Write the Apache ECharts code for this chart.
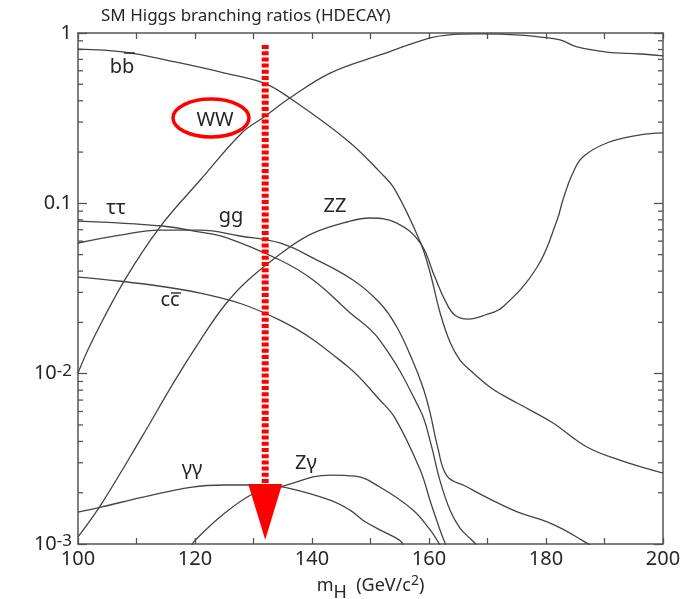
<!DOCTYPE html>
<html><head><meta charset="utf-8">
<script src="https://cdn.jsdelivr.net/npm/echarts@6/dist/echarts.min.js"></script>
<style>html,body{margin:0;padding:0;background:#fff}#c{width:691px;height:599px}</style>
</head><body><div id="c"></div>
<script>
// ---- data (m_H in GeV, branching ratio) ----
const xTickValues = [100, 120, 140, 160, 180, 200];
const yTickLabels = { '0': '1', '-1': '0.1', '-2': '10{sup|-2}', '-3': '10{sup|-3}' };
const yMinorTicks = [0.002,0.003,0.004,0.005,0.006,0.007,0.008,0.009,
                     0.02,0.03,0.04,0.05,0.06,0.07,0.08,0.09,
                     0.2,0.3,0.4,0.5,0.6,0.7,0.8,0.9];
const bb = [[100,0.805],[108,0.773],[116.6,0.676],[125.1,0.582],[131.8,0.508],[136.2,0.415],[146,0.235],[151.6,0.153],[154.2,0.120],[158.5,0.0593],[160.2,0.039],[161.9,0.0227],[163.6,0.0153],[165.3,0.0120],[167,0.0105],[170.4,0.00834],[172.6,0.00748],[177.3,0.00611],[181.2,0.00513],[187,0.00371],[192.6,0.00311],[200,0.00261]];
const tautau = [[100,0.0787],[114.4,0.0736],[120.9,0.0678],[125.1,0.0634],[134.5,0.0465],[140.2,0.0355],[146,0.0236],[151.6,0.0157],[158.5,0.0061],[160.2,0.00402],[161.9,0.00234],[163.6,0.00158],[165.3,0.00124],[167,0.00108],[168.7,0.000946]];
const cc = [[100,0.0369],[120.9,0.0297],[134.5,0.0206],[146,0.0111],[151.6,0.0070],[154.2,0.00548],[158.5,0.00272],[160.2,0.00179],[161.4,0.00135],[162.2,0.00113],[163.1,0.000946]];
const gg = [[100,0.0585],[107.2,0.0651],[114,0.0697],[120.9,0.0697],[127.7,0.0643],[134.5,0.0585],[140.2,0.0477],[147,0.0355],[151.6,0.026],[154.5,0.0188],[157.3,0.0117],[159,0.00823],[160.2,0.00587],[161.4,0.00381],[163.1,0.0025],[166.2,0.00219],[170.1,0.00186],[175.2,0.00154],[180.2,0.00135],[183.1,0.00121],[186.2,0.00105],[188.4,0.000946]];
const WW = [[100,0.0101],[102.4,0.0155],[108,0.0355],[114,0.0726],[120.9,0.137],[128,0.259],[131.8,0.321],[136.2,0.415],[143.1,0.582],[151.6,0.743],[160.2,0.935],[163.1,0.973],[168.7,0.987],[175.6,0.973],[179,0.947],[182.4,0.91],[185.3,0.828],[190.4,0.773],[196.1,0.753],[200,0.733]];
const ZZ = [[100,0.0011],[104.1,0.00174],[110.9,0.00424],[116.6,0.00917],[120.9,0.0157],[125.1,0.0253],[129.1,0.0355],[136.2,0.0554],[140.2,0.0669],[146,0.0777],[149.9,0.082],[154.5,0.0766],[158.5,0.0585],[161,0.0369],[162.7,0.0271],[164.4,0.0221],[166.7,0.0209],[169.6,0.0221],[172.6,0.0246],[178.5,0.0423],[181.9,0.0798],[182.9,0.105],[184.6,0.151],[186.3,0.187],[190.4,0.226],[196.1,0.252],[200,0.259]];
const Zgamma = [[119.3,0.00097],[120,0.00105],[125.1,0.00152],[130.3,0.0020],[134.5,0.00216],[143.1,0.00254],[147.4,0.0025],[151.6,0.00216],[157.3,0.00158],[160.2,0.00121],[161.4,0.00105],[162,0.00097]];
const gamgam = [[100,0.00154],[104.1,0.00165],[110.9,0.00188],[119.5,0.00216],[125.1,0.00222],[131.5,0.00222],[135.4,0.00215],[143.1,0.00181],[146.5,0.00158],[148.7,0.00138],[151.6,0.00121],[155,0.00105],[155.7,0.00097]];
const markerMass = 132;
const curves = [bb, tautau, cc, gg, WW, ZZ, Zgamma, gamgam];

// ---- chart ----
const chart = echarts.init(document.getElementById('c'), null, {renderer: 'canvas'});
const FONT = '"Noto Sans", "DejaVu Sans", sans-serif';
const TXT = '#262626';
const AX = '#555';
const lineSeries = curves.map(d => ({
  type: 'line', data: d, symbol: 'none', smooth: 0.4,
  lineStyle: {color: '#444', width: 1.3}, silent: true, clip: true, z: 3
}));
const option = {
  animation: false,
  backgroundColor: '#fff',
  title: {
    text: 'SM Higgs branching ratios (HDECAY)', left: 96, top: 3,
    textStyle: {fontFamily: FONT, fontSize: 17, fontWeight: 'normal', color: TXT}
  },
  grid: {left: 78, right: 28, top: 33, bottom: 55, containLabel: false, outerBoundsMode: 'none'},
  xAxis: [{
    type: 'value', min: 100, max: 200, interval: 10, position: 'bottom',
    axisLine: {show: true, lineStyle: {color: AX, width: 1.5}},
    axisTick: {show: true, inside: true, length: 6, lineStyle: {color: AX, width: 1.3}},
    splitLine: {show: false},
    axisLabel: {fontFamily: FONT, fontSize: 20, color: TXT, margin: 5,
      formatter: v => (xTickValues.indexOf(v) >= 0 ? String(v) : '')},
    name: 'm{sub|H}  (GeV/c{sup|2})', nameLocation: 'middle', nameGap: 21,
    nameTextStyle: {fontFamily: FONT, fontSize: 18, color: TXT,
      rich: {sub: {fontFamily: FONT, fontSize: 18, color: TXT, padding: [14, 0, 0, 0]},
             sup: {fontFamily: FONT, fontSize: 14, color: TXT, padding: [0, 0, 10, 0]}}}
  }, {
    type: 'value', min: 100, max: 200, interval: 10, position: 'top',
    axisLine: {show: true, lineStyle: {color: AX, width: 1.5}},
    axisTick: {show: true, inside: true, length: 6, lineStyle: {color: AX, width: 1.3}},
    axisLabel: {show: false}, splitLine: {show: false}
  }],
  yAxis: [{
    type: 'log', logBase: 10, min: 0.001, max: 1, position: 'left',
    axisLine: {show: true, lineStyle: {color: AX, width: 1.5}},
    axisTick: {show: true, inside: true, length: 9, lineStyle: {color: AX, width: 1.3}},
    splitLine: {show: false}, minorTick: {show: false},
    axisLabel: {fontFamily: FONT, fontSize: 20, color: TXT, margin: 6,
      formatter: v => yTickLabels[String(Math.round(Math.log10(v)))] || '',
      rich: {sup: {fontFamily: FONT, fontSize: 17, color: TXT, padding: [0, 0, 6, 0]}}}
  }, {
    type: 'log', logBase: 10, min: 0.001, max: 1, position: 'right',
    axisLine: {show: true, lineStyle: {color: AX, width: 1.5}},
    axisTick: {show: true, inside: true, length: 9, lineStyle: {color: AX, width: 1.3}},
    axisLabel: {show: false}, splitLine: {show: false}
  }],
  series: lineSeries.concat([{
    type: 'custom', silent: true, z: 2,
    data: yMinorTicks.map(v => [100, v]),
    encode: {x: 0, y: 1},
    renderItem: (params, api) => {
      const v = api.value(1);
      const l = api.coord([100, v]);
      const r = api.coord([200, v]);
      return {type: 'group', children: [
        {type: 'line', shape: {x1: l[0], y1: l[1], x2: l[0] + 5, y2: l[1]}, style: {stroke: AX, lineWidth: 1.3}},
        {type: 'line', shape: {x1: r[0], y1: r[1], x2: r[0] - 5, y2: r[1]}, style: {stroke: AX, lineWidth: 1.3}}
      ]};
    }
  }])
};
chart.setOption(option);

// annotations
const cx = chart.convertToPixel({xAxisIndex: 0}, markerMass);
const yTop = chart.convertToPixel({yAxisIndex: 0}, 0.85);
const yArrow = chart.convertToPixel({yAxisIndex: 0}, 0.00225);
const yTip = chart.convertToPixel({yAxisIndex: 0}, 0.00106);
const lab = (text, x, y, size) => ({type: 'text', x: x, y: y, z: 10,
  style: {text: text, font: (size || 20) + 'px ' + FONT, fill: TXT, align: 'center', verticalAlign: 'middle'}});
const bar = (x1, x2, y) => ({type: 'line', z: 10, shape: {x1: x1, y1: y, x2: x2, y2: y}, style: {stroke: TXT, lineWidth: 1.4}});
chart.setOption({graphic: [
  lab('bb', 122, 67), bar(124, 135, 53),
  lab('WW', 215, 120),
  lab('\u03c4\u03c4', 116, 208),
  lab('gg', 231, 216),
  lab('ZZ', 335, 206),
  lab('cc', 170, 300), bar(171, 181, 293),
  lab('\u03b3\u03b3', 192, 469),
  lab('Z\u03b3', 306, 463),
  {type: 'ellipse', z: 10, shape: {cx: 211, cy: 118, rx: 38, ry: 19},
   style: {fill: 'none', stroke: '#ff0000', lineWidth: 3.5}},
  {type: 'line', z: 11, shape: {x1: cx, y1: yTop, x2: cx, y2: yArrow},
   style: {stroke: '#ff0000', lineWidth: 7, lineDash: [4, 2.2]}},
  {type: 'polygon', z: 11, shape: {points: [[cx - 17, yArrow], [cx + 17, yArrow], [cx, yTip]]},
   style: {fill: '#ff0000'}}
]});
</script></body></html>
